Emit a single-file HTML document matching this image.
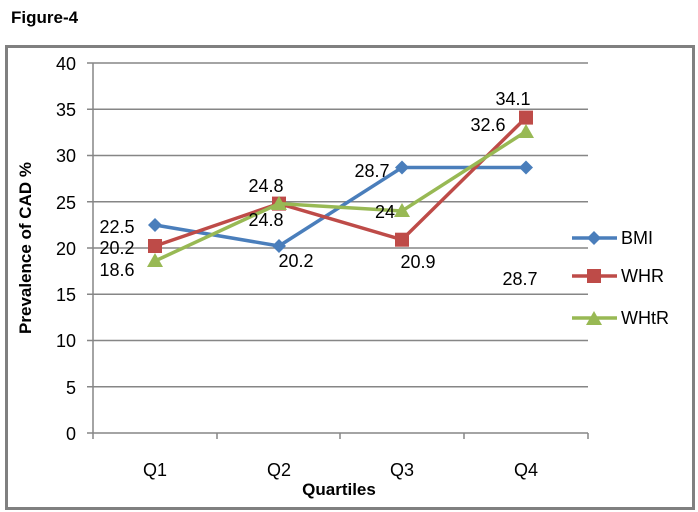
<!DOCTYPE html>
<html><head><meta charset="utf-8"><style>
body{margin:0;background:#fff;}
svg{display:block;font-family:"Liberation Sans",sans-serif;}
</style></head><body>
<svg width="698" height="512" viewBox="0 0 698 512">
<rect width="698" height="512" fill="#fff"/>
<text x="11" y="23" font-size="17" font-weight="bold">Figure-4</text>
<rect x="6.5" y="46.5" width="687" height="462" fill="#fff" stroke="#808080" stroke-width="3"/>
<g stroke="#868686" stroke-width="1.5">
<line x1="87" y1="63" x2="588" y2="63"/>
<line x1="87" y1="109.25" x2="588" y2="109.25"/>
<line x1="87" y1="155.5" x2="588" y2="155.5"/>
<line x1="87" y1="201.75" x2="588" y2="201.75"/>
<line x1="87" y1="248" x2="588" y2="248"/>
<line x1="87" y1="294.25" x2="588" y2="294.25"/>
<line x1="87" y1="340.5" x2="588" y2="340.5"/>
<line x1="87" y1="386.75" x2="588" y2="386.75"/>
<line x1="87" y1="433" x2="588" y2="433"/>
<line x1="93" y1="63" x2="93" y2="439"/>
<line x1="217" y1="433" x2="217" y2="439"/>
<line x1="340" y1="433" x2="340" y2="439"/>
<line x1="464" y1="433" x2="464" y2="439"/>
<line x1="588" y1="433" x2="588" y2="439"/>
</g>
<g font-size="18" text-anchor="end">
<text x="76" y="70">40</text><text x="76" y="116">35</text><text x="76" y="162">30</text>
<text x="76" y="209">25</text><text x="76" y="255">20</text><text x="76" y="301">15</text>
<text x="76" y="347">10</text><text x="76" y="394">5</text><text x="76" y="440">0</text>
</g>
<g font-size="18" text-anchor="middle">
<text x="155" y="476">Q1</text><text x="279" y="476">Q2</text><text x="402" y="476">Q3</text><text x="526" y="476">Q4</text>
</g>
<text x="339" y="495" font-size="17" font-weight="bold" text-anchor="middle">Quartiles</text>
<text transform="translate(31,248) rotate(-90)" font-size="17" font-weight="bold" text-anchor="middle">Prevalence of CAD %</text>
<polyline points="155,225 279,246 402,167.5 526,167.5" fill="none" stroke="#4a7ebb" stroke-width="3.5"/>
<g fill="#4a7ebb">
<polygon points="155,218 162,225 155,232 148,225"/><polygon points="279,239 286,246 279,253 272,246"/>
<polygon points="402,160.5 409,167.5 402,174.5 395,167.5"/><polygon points="526,160.5 533,167.5 526,174.5 519,167.5"/>
</g>
<polyline points="155,246 279,203.6 402,239.7 526,117.6" fill="none" stroke="#be4b48" stroke-width="3.5"/>
<g fill="#be4b48">
<rect x="148" y="239" width="14" height="14"/><rect x="272" y="196.6" width="14" height="14"/>
<rect x="395" y="232.7" width="14" height="14"/><rect x="519" y="110.6" width="14" height="14"/>
</g>
<polyline points="155,261 279,203.6 402,211 526,131.5" fill="none" stroke="#98b954" stroke-width="3.5"/>
<g fill="#98b954">
<polygon points="155,253 163,267 147,267"/><polygon points="279,196 287,210 271,210"/>
<polygon points="402,203 410,217 394,217"/><polygon points="526,124 534,138 518,138"/>
</g>
<g font-size="18" text-anchor="middle">
<text x="117" y="233">22.5</text><text x="117" y="254">20.2</text><text x="117" y="276">18.6</text>
<text x="266" y="192">24.8</text><text x="266" y="226">24.8</text><text x="296" y="267">20.2</text>
<text x="372" y="177">28.7</text><text x="385" y="218">24</text><text x="418" y="268">20.9</text>
<text x="513" y="105">34.1</text><text x="488" y="131">32.6</text><text x="520" y="285">28.7</text>
</g>
<g stroke-width="3.5">
<line x1="572" y1="238" x2="617" y2="238" stroke="#4a7ebb"/>
<line x1="572" y1="276" x2="617" y2="276" stroke="#be4b48"/>
<line x1="572" y1="318" x2="617" y2="318" stroke="#98b954"/>
</g>
<polygon points="594,231 601,238 594,245 587,238" fill="#4a7ebb"/>
<rect x="587" y="269" width="14" height="14" fill="#be4b48"/>
<polygon points="594,311 602,325 586,325" fill="#98b954"/>
<g font-size="18">
<text x="621" y="244">BMI</text><text x="621" y="282">WHR</text><text x="621" y="324">WHtR</text>
</g>
</svg>
</body></html>
